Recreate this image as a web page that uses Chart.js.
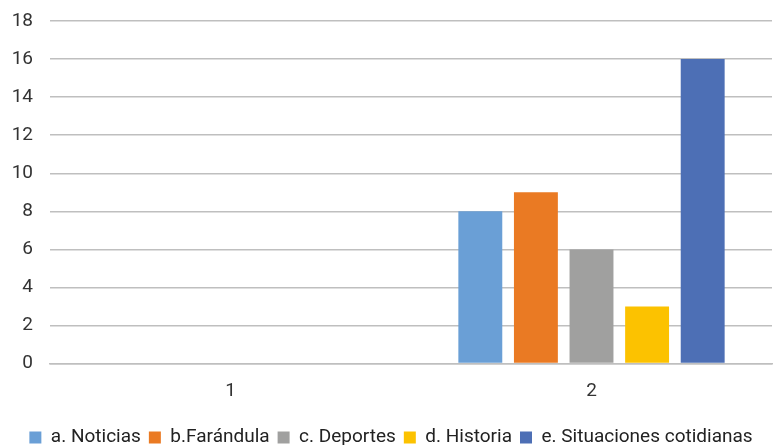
<!DOCTYPE html>
<html>
<head>
<meta charset="utf-8">
<script src="https://cdn.jsdelivr.net/npm/chart.js@4/dist/chart.umd.min.js"></script>
<style>
  html, body { margin: 0; padding: 0; background: #fff; overflow: hidden; }
  #wrap { width: 780px; height: 457px; }
</style>
</head>
<body>
<div id="wrap"><canvas id="myChart" width="780" height="457"></canvas></div>
<script>
// values
const labels = ["1", "2"];
const noticias = [0, 8];
const farandula = [0, 9];
const deportes = [0, 6];
const historia = [0, 3];
const cotidianas = [0, 16];
const yTicks = [0, 2, 4, 6, 8, 10, 12, 14, 16, 18];

const font = "'Roboto', sans-serif";

new Chart(document.getElementById("myChart"), {
    type: "bar",
    data: {
        labels: labels,
        datasets: [
            { label: "a. Noticias", data: noticias, backgroundColor: "#6a9fd6" },
            { label: "b.Farándula", data: farandula, backgroundColor: "#ea7a23" },
            { label: "c. Deportes", data: deportes, backgroundColor: "#a0a09f" },
            { label: "d. Historia", data: historia, backgroundColor: "#fcc200" },
            { label: "e. Situaciones cotidianas", data: cotidianas, backgroundColor: "#4d6fb5" }
        ]
    },
    options: {
        responsive: false,
        maintainAspectRatio: false,
        animation: false,
        layout: { padding: { left: 10, right: 8, top: 0, bottom: 0 } },
        datasets: { bar: { barPercentage: 0.79, categoryPercentage: 0.77 } },
        plugins: {
            tooltip: { enabled: false },
            legend: {
                position: "bottom",
                labels: {
                    boxWidth: 12, boxHeight: 12, padding: 8,
                    color: "#222", font: { family: font, size: 19 }
                }
            }
        },
        scales: {
            x: {
                grid: { display: false },
                border: { color: "#bfbfbf", width: 1.5 },
                ticks: { color: "#333", font: { family: font, size: 19 }, padding: 8 },
                // blank title only to leave room above the legend
                title: { display: true, text: " ", font: { size: 8 }, padding: { top: 0, bottom: 0 } }
            },
            y: {
                min: 0, max: 18,
                afterBuildTicks: (axis) => { axis.ticks = yTicks.map(v => ({ value: v })); },
                afterFit: (axis) => { axis.width = 40; axis.paddingTop = 21; axis.paddingBottom = 0; },
                grid: { color: "#bfbfbf", lineWidth: 1.5, drawTicks: false },
                border: { display: false },
                ticks: { color: "#333", font: { family: font, size: 19 }, padding: 17 }
            }
        }
    }
});
</script>
</body>
</html>
